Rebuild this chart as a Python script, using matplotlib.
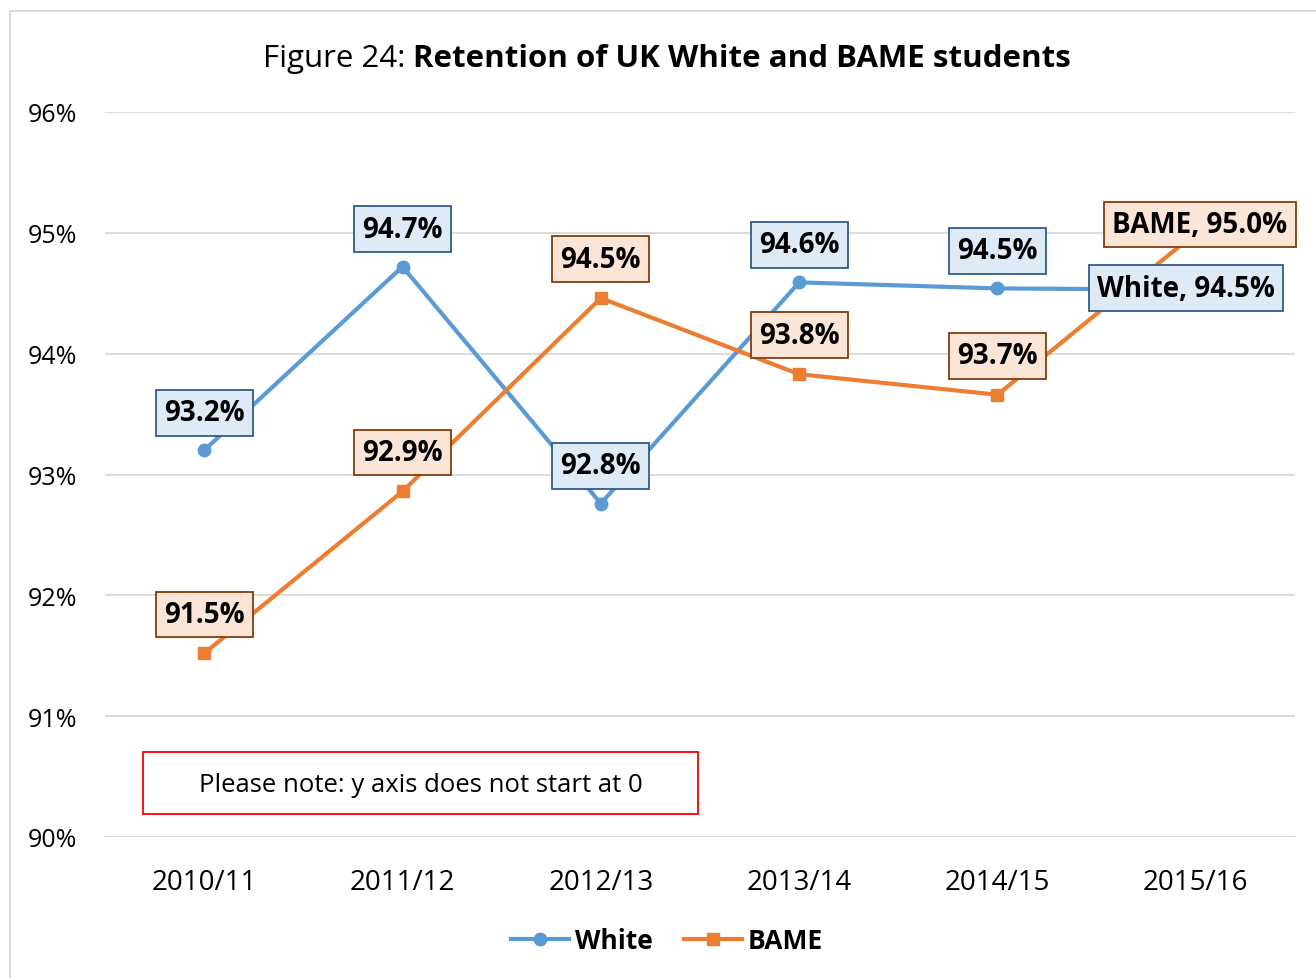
import matplotlib
matplotlib.use('Agg')
import matplotlib.pyplot as plt
from matplotlib.patches import Rectangle

# retention rates (%) by academic year
years = ['2010/11', '2011/12', '2012/13', '2013/14', '2014/15', '2015/16']
white = [93.20, 94.72, 92.76, 94.59, 94.54, 94.53]
bame = [91.52, 92.86, 94.46, 93.83, 93.66, 95.00]
yticks = [90, 91, 92, 93, 94, 95, 96]

blue = '#5B9BD5'
orange = '#ED7D31'

plt.rcParams['font.family'] = ['Open Sans', 'DejaVu Sans']

W, H = 1316, 979
fig = plt.figure(figsize=(W / 100, H / 100), dpi=100)
ax = fig.add_axes([105 / W, 1 - 838 / H, 1190 / W, 725 / H])

x = list(range(len(years)))
ax.plot(x, white, color=blue, lw=3, marker='o', ms=9, label='White', zorder=3)
ax.plot(x, bame, color=orange, lw=3, marker='s', ms=9, label='BAME', zorder=3)

ax.set_xlim(-0.5, 5.5)
ax.set_ylim(90, 96)
ax.set_yticks(yticks)
ax.set_yticklabels([f'{t}%' for t in yticks])
ax.set_xticks(x)
ax.set_xticklabels(years)
ax.tick_params(axis='both', length=0)
ax.tick_params(axis='y', pad=20, labelsize=18)
ax.tick_params(axis='x', pad=22, labelsize=20)
ax.grid(axis='y', color='#D9D9D9', lw=1.3)
ax.set_axisbelow(True)
for s in ax.spines.values():
    s.set_visible(False)

# data labels
def box(fc, ec):
    return dict(boxstyle='square,pad=0.3', fc=fc, ec=ec, lw=1.3)

wbox = box('#DEEBF7', '#2F5C8A')
bbox_ = box('#FBE5D6', '#843C0C')
lsize = 20
for i in range(len(years) - 1):
    ax.annotate(f'{white[i]:.1f}%', (i, white[i]), xytext=(0, 27), textcoords='offset points',
                ha='center', va='center', fontsize=lsize, fontweight='bold', bbox=wbox, zorder=5)
    ax.annotate(f'{bame[i]:.1f}%', (i, bame[i]), xytext=(0, 28), textcoords='offset points',
                ha='center', va='center', fontsize=lsize, fontweight='bold', bbox=bbox_, zorder=5)
ax.annotate(f'White, {white[-1]:.1f}%', (5, white[-1]), xytext=(-7, 1), textcoords='offset points',
            ha='center', va='center', fontsize=lsize, fontweight='bold', bbox=wbox, zorder=6)
ax.annotate(f'BAME, {bame[-1]:.1f}%', (5, bame[-1]), xytext=(3, 6), textcoords='offset points',
            ha='center', va='center', fontsize=lsize, fontweight='bold', bbox=bbox_, zorder=6)

# note box
fig.patches.append(Rectangle((143 / W, 1 - 815 / H), 555 / W, 62 / H, transform=fig.transFigure,
                             fill=False, ec='#FF0000', lw=1.3))
fig.text(421 / W, 1 - 786 / H, 'Please note: y axis does not start at 0', ha='center', va='center',
         fontsize=18.5)

# chart border
fig.patches.append(Rectangle((10 / W, -0.1), 1.2, 1.1 - 12 / H, transform=fig.transFigure,
                             fill=False, ec='#D9D9D9', lw=1.5))

# title: regular prefix + bold main part, centred as a whole
t1 = fig.text(0, 1 - 59 / H, 'Figure 24: ', fontsize=22.5, va='center', ha='left')
t2 = fig.text(0, 1 - 59 / H, 'Retention of UK White and BAME students', fontsize=22.5,
              fontweight='bold', va='center', ha='left')
fig.canvas.draw()
r = fig.canvas.get_renderer()
w1 = t1.get_window_extent(r).width
w2 = t2.get_window_extent(r).width
x0 = 667 - (w1 + w2) / 2
t1.set_x(x0 / W)
t2.set_x((x0 + w1) / W)

fig.legend(loc='center', bbox_to_anchor=(667 / W, 1 - 942 / H), ncol=2, frameon=False,
           prop=dict(size=19, weight='bold'), handlelength=2.2, handletextpad=0.2,
           columnspacing=1.2)

fig.savefig('out.png', dpi=100)
